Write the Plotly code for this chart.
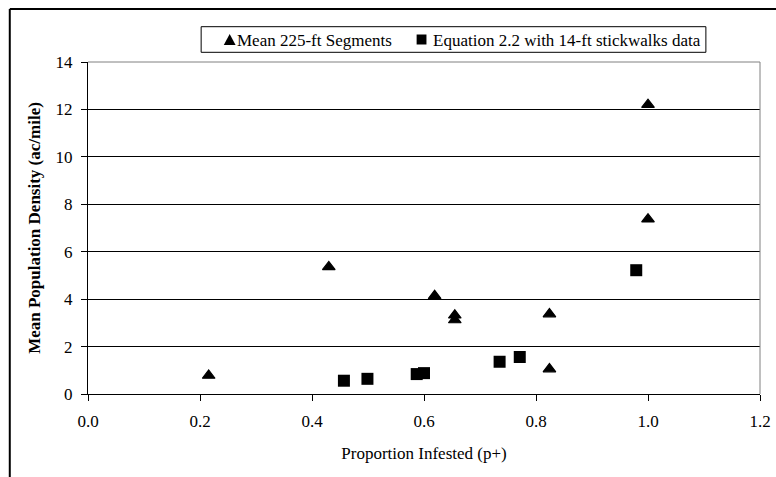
import plotly.graph_objects as go

# Data
tri_name = "Mean 225-ft Segments"
tri_x = [0.2155, 0.43, 0.619, 0.655, 0.655, 0.824, 0.824, 1.0, 1.0]
tri_y = [0.78, 5.36, 4.14, 3.32, 3.12, 3.37, 1.05, 12.2, 7.37]
sq_name = "Equation 2.2 with 14-ft stickwalks data"
sq_x = [0.457, 0.499, 0.587, 0.600, 0.735, 0.771, 0.979]
sq_y = [0.56, 0.64, 0.84, 0.88, 1.36, 1.56, 5.22]
x_ticks = [0.0, 0.2, 0.4, 0.6, 0.8, 1.0, 1.2]
x_tick_labels = ["0.0", "0.2", "0.4", "0.6", "0.8", "1.0", "1.2"]

FONT = "Liberation Serif"
FS = 17

fig = go.Figure()
fig.add_trace(go.Scatter(x=tri_x, y=tri_y, mode="markers", name=tri_name,
                         marker=dict(symbol="triangle-up", size=11, color="black",
                                     line=dict(color="black", width=1.2))))
fig.add_trace(go.Scatter(x=sq_x, y=sq_y, mode="markers", name=sq_name,
                         marker=dict(symbol="square", size=12, color="black")))

W, H = 776, 477
L, R, T, B = 88, 5, 62, 83
pw, ph = W - L - R, H - T - B

def px(xp):
    return (xp - L) / pw

def py(yp):
    return (H - B - yp) / ph

# custom legend (box, marker glyph shapes, labels)
lg_left, lg_right, lg_top, lg_bot = 203, 716, 26.7, 52.3
lg_mid = (lg_top + lg_bot) / 2
tcx, tcy = 232, lg_mid
tri_path = "M{},{} L{},{} L{},{} Z".format(px(tcx - 6), py(tcy + 5.5), px(tcx + 6), py(tcy + 5.5),
                                           px(tcx), py(tcy - 5.5))
scx, scy = 427, lg_mid
sq_path = "M{},{} L{},{} L{},{} L{},{} Z".format(px(scx - 5), py(scy - 5), px(scx + 5), py(scy - 5),
                                                 px(scx + 5), py(scy + 5), px(scx - 5), py(scy + 5))

shapes = [
    # gray top and right plot borders
    dict(type="line", xref="paper", yref="paper", x0=0, x1=1, y0=1, y1=1, line=dict(color="#808080", width=1)),
    dict(type="line", xref="paper", yref="paper", x0=1, x1=1, y0=0, y1=1, line=dict(color="#808080", width=1)),
    # outer chart frame (left & top visible)
    dict(type="line", xref="paper", yref="paper", x0=px(8.5), x1=px(8.5), y0=py(9), y1=py(490),
         line=dict(color="black", width=2)),
    dict(type="line", xref="paper", yref="paper", x0=px(8.5), x1=px(790), y0=py(9), y1=py(9),
         line=dict(color="black", width=2)),
    # legend box
    dict(type="rect", xref="paper", yref="paper", x0=px(lg_left), x1=px(lg_right), y0=py(lg_bot), y1=py(lg_top),
         line=dict(color="black", width=1), fillcolor="white"),
    dict(type="path", xref="paper", yref="paper", path=tri_path, fillcolor="black", line=dict(width=0)),
    dict(type="path", xref="paper", yref="paper", path=sq_path, fillcolor="black", line=dict(width=0)),
]

annotations = [
    dict(text=tri_name, xref="paper", yref="paper", x=px(237), y=py(lg_mid + 1), xanchor="left", yanchor="middle",
         showarrow=False, font=dict(family=FONT, size=FS, color="black")),
    dict(text=sq_name, xref="paper", yref="paper", x=px(437), y=py(lg_mid + 1), xanchor="left", yanchor="middle",
         showarrow=False, font=dict(family=FONT, size=FS, color="black")),
]

fig.update_layout(
    width=W, height=H,
    margin=dict(l=L, r=R, t=T, b=B),
    paper_bgcolor="white", plot_bgcolor="white",
    font=dict(family=FONT, size=FS, color="black"),
    showlegend=False,
    xaxis=dict(range=[0, 1.2], tickvals=x_ticks, ticktext=x_tick_labels, showgrid=False, zeroline=False,
               showline=True, linecolor="black", linewidth=1, ticks="outside", ticklen=6,
               tickcolor="black", tickfont=dict(family=FONT, size=FS), ticklabeloverflow="allow",
               ticklabelstandoff=6,
               title=dict(text="Proportion Infested (p+)", font=dict(family=FONT, size=FS), standoff=16)),
    yaxis=dict(range=[0, 14], dtick=2, showgrid=True, gridcolor="black", gridwidth=1, zeroline=False,
               showline=True, linecolor="black", linewidth=1, ticks="outside", ticklen=6,
               tickcolor="black", tickfont=dict(family=FONT, size=FS), ticklabelstandoff=5,
               title=dict(text="<b>Mean Population Density (ac/mile)</b>", font=dict(family=FONT, size=FS),
                          standoff=10)),
    shapes=shapes,
    annotations=annotations,
)

fig.write_html("out.html")
